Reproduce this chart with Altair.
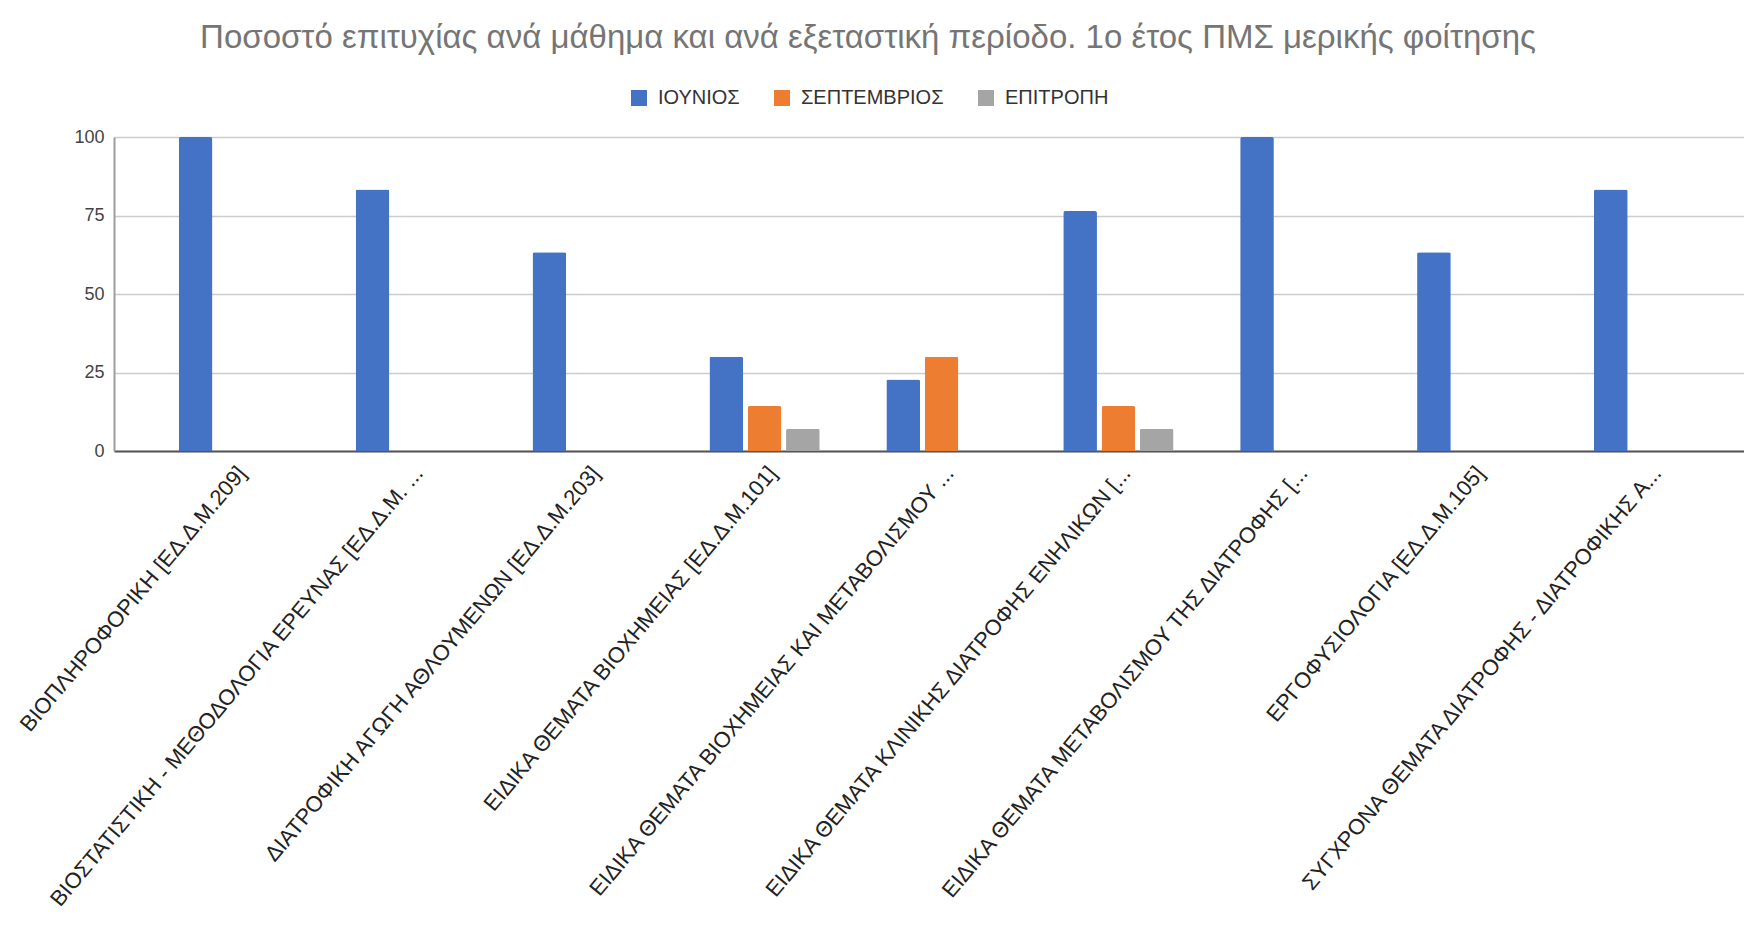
import altair as alt
import pandas as pd

courses = [
    "ΒΙΟΠΛΗΡΟΦΟΡΙΚΗ [ΕΔ.Δ.Μ.209]",
    "ΒΙΟΣΤΑΤΙΣΤΙΚΗ - ΜΕΘΟΔΟΛΟΓΙΑ ΕΡΕΥΝΑΣ [ΕΔ.Δ.Μ. ...",
    "ΔΙΑΤΡΟΦΙΚΗ ΑΓΩΓΗ ΑΘΛΟΥΜΕΝΩΝ [ΕΔ.Δ.Μ.203]",
    "ΕΙΔΙΚΑ ΘΕΜΑΤΑ ΒΙΟΧΗΜΕΙΑΣ [ΕΔ.Δ.Μ.101]",
    "ΕΙΔΙΚΑ ΘΕΜΑΤΑ ΒΙΟΧΗΜΕΙΑΣ ΚΑΙ ΜΕΤΑΒΟΛΙΣΜΟΥ ...",
    "ΕΙΔΙΚΑ ΘΕΜΑΤΑ ΚΛΙΝΙΚΗΣ ΔΙΑΤΡΟΦΗΣ ΕΝΗΛΙΚΩΝ [...",
    "ΕΙΔΙΚΑ ΘΕΜΑΤΑ ΜΕΤΑΒΟΛΙΣΜΟΥ ΤΗΣ ΔΙΑΤΡΟΦΗΣ [...",
    "ΕΡΓΟΦΥΣΙΟΛΟΓΙΑ [ΕΔ.Δ.Μ.105]",
    "ΣΥΓΧΡΟΝΑ ΘΕΜΑΤΑ ΔΙΑΤΡΟΦΗΣ - ΔΙΑΤΡΟΦΙΚΗΣ Α...",
]
series = ["ΙΟΥΝΙΟΣ", "ΣΕΠΤΕΜΒΡΙΟΣ", "ΕΠΙΤΡΟΠΗ"]
june = [100, 83.3, 63.3, 30, 22.8, 76.4, 100, 63.3, 83.3]
september = [0, 0, 0, 14.3, 30, 14.3, 0, 0, 0]
committee = [0, 0, 0, 7.1, 0, 7.1, 0, 0, 0]
colors = ["#4472C4", "#ED7D31", "#A5A5A5"]

rows = []
for i, c in enumerate(courses):
    for s, vals in zip(series, [june, september, committee]):
        rows.append({"course": c, "period": s, "value": vals[i]})
df = pd.DataFrame(rows)

FONT = "Liberation Sans, Arial, sans-serif"

chart = alt.Chart(df).mark_bar(
    cornerRadiusTopLeft=2, cornerRadiusTopRight=2
).encode(
    x=alt.X("course:N", sort=courses, title=None,
            scale=alt.Scale(paddingInner=0, paddingOuter=0.107, align=0.83),
            axis=alt.Axis(labelAngle=-50, labelAlign="right", labelBaseline="middle",
                          labelFontSize=22, labelColor="#222222", labelFont=FONT,
                          labelPadding=18, labelOffset=8, ticks=False, tickSize=0,
                          domainColor="#555555", domainWidth=2, grid=False,
                          labelOverlap=False, labelLimit=0)),
    xOffset=alt.XOffset("period:N", sort=series,
                        scale=alt.Scale(paddingInner=0.12, paddingOuter=0.87)),
    y=alt.Y("value:Q", title=None,
            scale=alt.Scale(domain=[0, 100], nice=False),
            axis=alt.Axis(values=[0, 25, 50, 75, 100], labelFontSize=18,
                          labelColor="#444444", labelFont=FONT, labelPadding=10,
                          ticks=False, domainColor="#9E9E9E", domainWidth=2,
                          gridColor="#CCCCCC", gridWidth=1.5)),
    color=alt.Color("period:N", sort=series,
                    scale=alt.Scale(domain=series, range=colors),
                    legend=alt.Legend(title=None, orient="none", direction="horizontal",
                                      legendX=515, legendY=-49, symbolType="square",
                                      symbolSize=256, symbolStrokeWidth=0,
                                      labelFontSize=20, labelFont=FONT,
                                      labelColor="#333333", labelOffset=9,
                                      columnPadding=32, padding=0)),
).properties(
    width=1630,
    height=314,
    title=alt.TitleParams(
        "Ποσοστό επιτυχίας ανά μάθημα και ανά εξεταστική περίοδο. 1ο έτος ΠΜΣ μερικής φοίτησης",
        fontSize=33, font=FONT, color="#757575", fontWeight="normal",
        anchor="middle", dx=-61, offset=33),
    autosize=alt.AutoSizeParams(type="none"),
    padding={"left": 106, "top": 129, "right": 0, "bottom": 460},
).configure_view(stroke=None)

chart.save("out.html", embed_options={"renderer": "svg", "actions": False})
